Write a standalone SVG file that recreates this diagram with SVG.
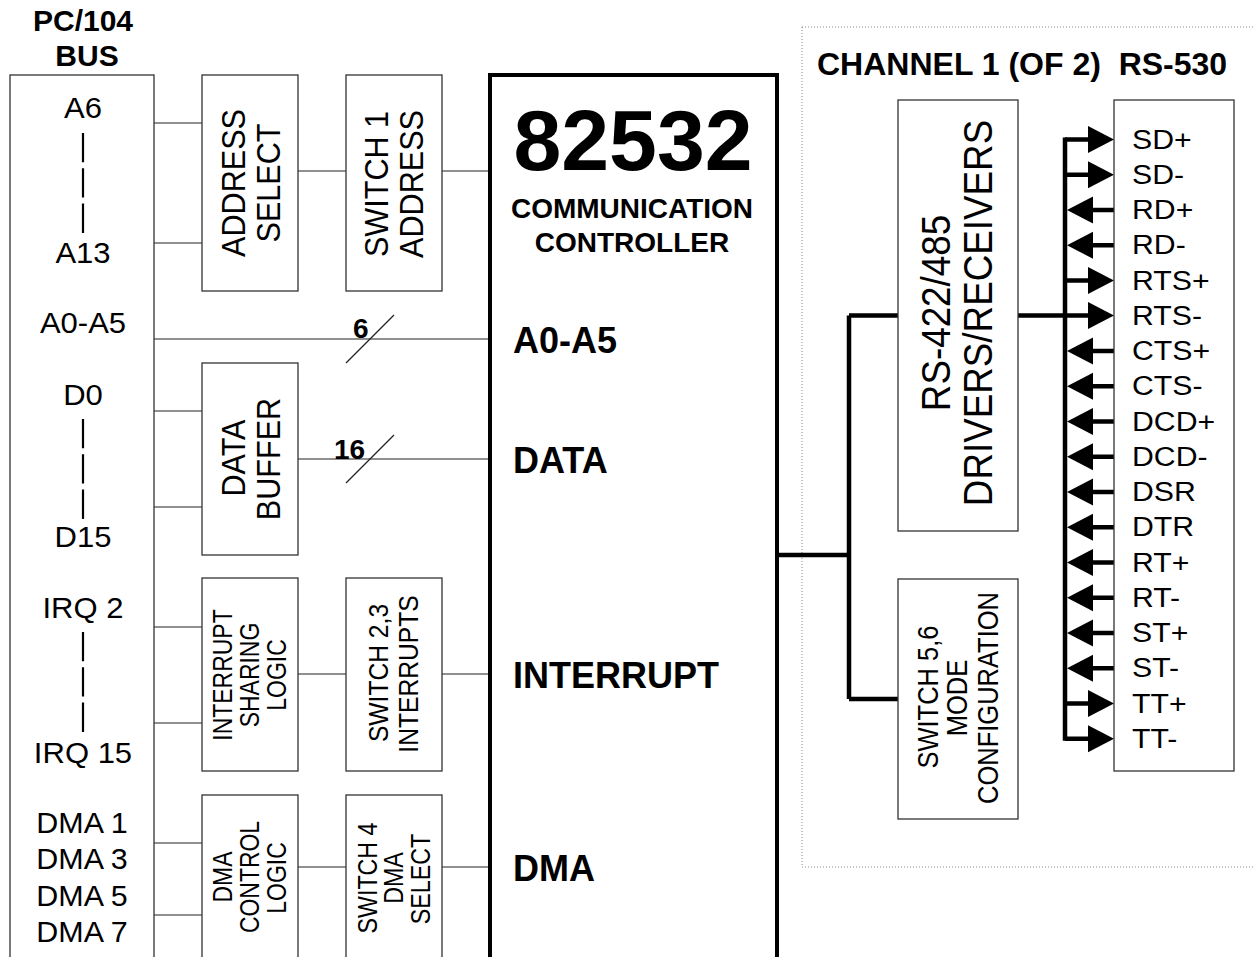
<svg xmlns="http://www.w3.org/2000/svg" xmlns:xlink="http://www.w3.org/1999/xlink" width="1253" height="957" viewBox="0 0 1253 957">
<style>
text{font-family:"Liberation Sans",Arial,sans-serif;fill:#000}
.b{font-weight:bold}
.m{text-anchor:middle}
.box{fill:#fff;stroke:#333;stroke-width:1.3}
.thin{stroke:#222;stroke-width:1.2;fill:none}
.thick{stroke:#000;stroke-width:4.5;fill:none}
.dash{stroke:#000;stroke-width:2.2;stroke-dasharray:29.3 6;fill:none}
.n29{font-size:29px}
.n27{font-size:27px}
.v34{font-size:34px}
.v28{font-size:28px}
.v27{font-size:27px}
</style>
<defs>
<g id="arrOut"><line x1="1065" y1="0" x2="1090" y2="0" stroke="#000" stroke-width="4.5"/><path d="M1088,-13.5 L1114,0 L1088,13.5 Z" fill="#000"/></g>
<g id="arrIn"><line x1="1090" y1="0" x2="1114" y2="0" stroke="#000" stroke-width="4.5"/><path d="M1067,0 L1093,-13.5 L1093,13.5 Z" fill="#000"/></g>
</defs>
<rect x="0" y="0" width="1253" height="957" fill="#fff"/>

<g id="channel-frame">
<rect x="802" y="27" width="470" height="840" fill="none" stroke="#888" stroke-width="1" stroke-dasharray="1 2"/>
<text class="b" x="817" y="75" font-size="32">CHANNEL 1 (OF 2)&#160; RS-530</text>
</g>

<g id="connectors">
<line class="thin" x1="154" y1="123" x2="202" y2="123"/>
<line class="thin" x1="154" y1="243" x2="202" y2="243"/>
<line class="thin" x1="298" y1="171" x2="346" y2="171"/>
<line class="thin" x1="442" y1="171" x2="490" y2="171"/>
<line class="thin" x1="154" y1="339" x2="490" y2="339"/>
<line class="thin" x1="346" y1="363" x2="394" y2="315"/>
<line class="thin" x1="154" y1="411" x2="202" y2="411"/>
<line class="thin" x1="154" y1="507" x2="202" y2="507"/>
<line class="thin" x1="298" y1="459" x2="490" y2="459"/>
<line class="thin" x1="346" y1="483" x2="394" y2="435"/>
<line class="thin" x1="154" y1="627" x2="202" y2="627"/>
<line class="thin" x1="154" y1="723" x2="202" y2="723"/>
<line class="thin" x1="298" y1="674" x2="346" y2="674"/>
<line class="thin" x1="442" y1="674" x2="490" y2="674"/>
<line class="thin" x1="154" y1="843" x2="202" y2="843"/>
<line class="thin" x1="154" y1="915" x2="202" y2="915"/>
<line class="thin" x1="298" y1="867" x2="346" y2="867"/>
<line class="thin" x1="442" y1="867" x2="490" y2="867"/>
<text class="b" x="353" y="338" font-size="28">6</text>
<text class="b" x="334" y="459" font-size="28">16</text>
<path class="thick" d="M777,555 H849 M849,315.5 V699 M849,315.5 H898 M849,699 H898 M1018,315.5 H1065"/>
<path class="thick" d="M1065,137.5 V740.75"/>
<use xlink:href="#arrOut" transform="translate(0,139.5)"/>
<use xlink:href="#arrOut" transform="translate(0,174.75)"/>
<use xlink:href="#arrIn" transform="translate(0,210)"/>
<use xlink:href="#arrIn" transform="translate(0,245.25)"/>
<use xlink:href="#arrOut" transform="translate(0,280.5)"/>
<use xlink:href="#arrOut" transform="translate(0,315.5)"/>
<use xlink:href="#arrIn" transform="translate(0,351)"/>
<use xlink:href="#arrIn" transform="translate(0,386.25)"/>
<use xlink:href="#arrIn" transform="translate(0,421.5)"/>
<use xlink:href="#arrIn" transform="translate(0,456.75)"/>
<use xlink:href="#arrIn" transform="translate(0,492)"/>
<use xlink:href="#arrIn" transform="translate(0,527.25)"/>
<use xlink:href="#arrIn" transform="translate(0,562.5)"/>
<use xlink:href="#arrIn" transform="translate(0,597.75)"/>
<use xlink:href="#arrIn" transform="translate(0,633)"/>
<use xlink:href="#arrIn" transform="translate(0,668.25)"/>
<use xlink:href="#arrOut" transform="translate(0,703.5)"/>
<use xlink:href="#arrOut" transform="translate(0,738.75)"/>
</g>

<g id="pc104-bus">
<text class="b m" x="83" y="31" font-size="30">PC/104</text>
<text class="b m" x="87" y="66" font-size="30">BUS</text>
<rect class="box" x="10" y="75" width="144" height="1000"/>
<text class="n29 m" transform="translate(83,118) scale(1.07,1)">A6</text>
<line class="dash" x1="83" y1="133" x2="83" y2="233"/>
<text class="n29 m" transform="translate(83,263) scale(1.07,1)">A13</text>
<text class="n29 m" transform="translate(83,333) scale(1.07,1)">A0-A5</text>
<text class="n29 m" transform="translate(83,405) scale(1.07,1)">D0</text>
<line class="dash" x1="83" y1="419" x2="83" y2="520"/>
<text class="n29 m" transform="translate(83,547) scale(1.07,1)">D15</text>
<text class="n29 m" transform="translate(83,618) scale(1.07,1)">IRQ 2</text>
<line class="dash" x1="83" y1="632" x2="83" y2="733"/>
<text class="n29 m" transform="translate(83,763) scale(1.07,1)">IRQ 15</text>
<text class="n29 m" transform="translate(82,833) scale(1.05,1)">DMA 1</text>
<text class="n29 m" transform="translate(82,869) scale(1.05,1)">DMA 3</text>
<text class="n29 m" transform="translate(82,906) scale(1.05,1)">DMA 5</text>
<text class="n29 m" transform="translate(82,942) scale(1.05,1)">DMA 7</text>
</g>

<g id="address-select">
<rect class="box" x="202" y="75" width="96" height="216"/>
<text class="v34 m" transform="translate(245,183) rotate(-90) scale(0.9,1)">ADDRESS</text>
<text class="v34 m" transform="translate(280,183) rotate(-90) scale(0.9,1)">SELECT</text>
</g>

<g id="switch1-address">
<rect class="box" x="346" y="75" width="96" height="216"/>
<text class="v34 m" transform="translate(388,184) rotate(-90) scale(0.9,1)">SWITCH 1</text>
<text class="v34 m" transform="translate(423,184) rotate(-90) scale(0.9,1)">ADDRESS</text>
</g>

<g id="data-buffer">
<rect class="box" x="202" y="363" width="96" height="192"/>
<text class="v34 m" transform="translate(245,458) rotate(-90) scale(0.9,1)">DATA</text>
<text class="v34 m" transform="translate(280,459) rotate(-90) scale(0.9,1)">BUFFER</text>
</g>

<g id="interrupt-sharing">
<rect class="box" x="202" y="578" width="96" height="193"/>
<text class="v27 m" transform="translate(232,675) rotate(-90) scale(0.85,1)">INTERRUPT</text>
<text class="v27 m" transform="translate(259,675) rotate(-90) scale(0.85,1)">SHARING</text>
<text class="v27 m" transform="translate(286,675) rotate(-90) scale(0.85,1)">LOGIC</text>
</g>

<g id="switch23-interrupts">
<rect class="box" x="346" y="578" width="96" height="193"/>
<text class="v28 m" transform="translate(388,673) rotate(-90) scale(0.88,1)">SWITCH 2,3</text>
<text class="v28 m" transform="translate(418,674) rotate(-90) scale(0.88,1)">INTERRUPTS</text>
</g>

<g id="dma-control">
<rect class="box" x="202" y="795" width="96" height="200"/>
<text class="v27 m" transform="translate(232,877) rotate(-90) scale(0.85,1)">DMA</text>
<text class="v27 m" transform="translate(259,877) rotate(-90) scale(0.85,1)">CONTROL</text>
<text class="v27 m" transform="translate(286,878) rotate(-90) scale(0.85,1)">LOGIC</text>
</g>

<g id="switch4-dma">
<rect class="box" x="346" y="795" width="96" height="200"/>
<text class="v27 m" transform="translate(377,878) rotate(-90) scale(0.86,1)">SWITCH 4</text>
<text class="v27 m" transform="translate(403,878) rotate(-90) scale(0.86,1)">DMA</text>
<text class="v27 m" transform="translate(430,879) rotate(-90) scale(0.86,1)">SELECT</text>
</g>

<g id="controller-82532">
<rect x="490" y="75" width="287" height="1000" fill="#fff" stroke="#000" stroke-width="4"/>
<text class="b m" x="633" y="170" font-size="86">82532</text>
<text class="b m" x="632" y="218" font-size="28">COMMUNICATION</text>
<text class="b m" x="632" y="252" font-size="28">CONTROLLER</text>
<text class="b" x="513" y="353" font-size="36">A0-A5</text>
<text class="b" x="513" y="473" font-size="36">DATA</text>
<text class="b" x="513" y="688" font-size="36">INTERRUPT</text>
<text class="b" x="513" y="881" font-size="36">DMA</text>
</g>

<g id="rs422-drivers">
<rect class="box" x="898" y="100" width="120" height="431"/>
<text class="m" font-size="40" transform="translate(950,313) rotate(-90) scale(0.92,1)">RS-422/485</text>
<text class="m" font-size="40" transform="translate(992,313) rotate(-90) scale(0.92,1)">DRIVERS/RECEIVERS</text>
</g>

<g id="switch56-mode">
<rect class="box" x="898" y="579" width="120" height="240"/>
<text class="m" font-size="29" transform="translate(938,697) rotate(-90) scale(0.88,1)">SWITCH 5,6</text>
<text class="m" font-size="29" transform="translate(967,698) rotate(-90) scale(0.88,1)">MODE</text>
<text class="m" font-size="29" transform="translate(998,698) rotate(-90) scale(0.88,1)">CONFIGURATION</text>
</g>

<g id="rs530-pins">
<rect class="box" x="1114" y="100" width="120" height="671"/>
<text class="n27" transform="translate(1132,148.5) scale(1.12,1)">SD+</text>
<text class="n27" transform="translate(1132,183.75) scale(1.12,1)">SD-</text>
<text class="n27" transform="translate(1132,219) scale(1.12,1)">RD+</text>
<text class="n27" transform="translate(1132,254.25) scale(1.12,1)">RD-</text>
<text class="n27" transform="translate(1132,289.5) scale(1.12,1)">RTS+</text>
<text class="n27" transform="translate(1132,324.5) scale(1.12,1)">RTS-</text>
<text class="n27" transform="translate(1132,360) scale(1.12,1)">CTS+</text>
<text class="n27" transform="translate(1132,395.25) scale(1.12,1)">CTS-</text>
<text class="n27" transform="translate(1132,430.5) scale(1.12,1)">DCD+</text>
<text class="n27" transform="translate(1132,465.75) scale(1.12,1)">DCD-</text>
<text class="n27" transform="translate(1132,501) scale(1.12,1)">DSR</text>
<text class="n27" transform="translate(1132,536.25) scale(1.12,1)">DTR</text>
<text class="n27" transform="translate(1132,571.5) scale(1.12,1)">RT+</text>
<text class="n27" transform="translate(1132,606.75) scale(1.12,1)">RT-</text>
<text class="n27" transform="translate(1132,642) scale(1.12,1)">ST+</text>
<text class="n27" transform="translate(1132,677.25) scale(1.12,1)">ST-</text>
<text class="n27" transform="translate(1132,712.5) scale(1.12,1)">TT+</text>
<text class="n27" transform="translate(1132,747.75) scale(1.12,1)">TT-</text>
</g>
</svg>
